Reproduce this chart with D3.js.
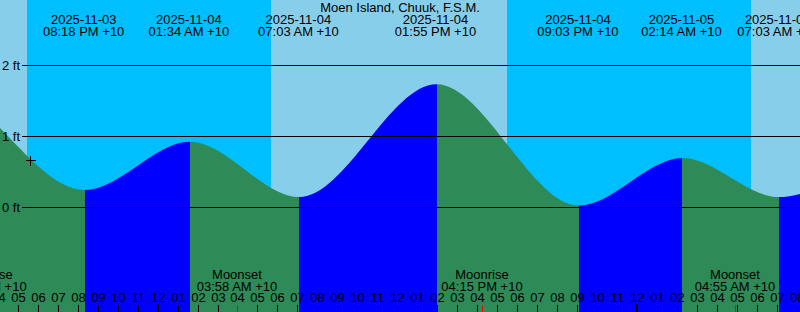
<!DOCTYPE html>
<html>
<head>
<meta charset="utf-8">
<script src="https://cdn.jsdelivr.net/npm/d3@7"></script>
<style>
  html, body { margin: 0; padding: 0; background: #fff; }
  svg { display: block; }
  text { font-family: "Liberation Sans", Arial, sans-serif; font-size: 13px; fill: #000; }
</style>
</head>
<body>
<svg id="chart" width="800" height="312"></svg>
<script>
// ---------- data (local time, +10) ----------
const title = "Moen Island, Chuuk, F.S.M.";
const viewWindow = ["2025-11-03 16:06:30", "2025-11-05 08:10:06"];

const tideTimes = ["2025-11-03 07:05", "2025-11-03 12:48", "2025-11-03 20:18", "2025-11-04 01:34",
                   "2025-11-04 07:03", "2025-11-04 13:55", "2025-11-04 21:03", "2025-11-05 02:14",
                   "2025-11-05 07:03", "2025-11-05 14:20"];
const tideHeights = [0.20, 1.70, 0.24, 0.92, 0.14, 1.73, 0.02, 0.69, 0.14, 1.60];

const sunTimes = ["2025-11-03 05:40", "2025-11-03 17:28", "2025-11-04 05:41", "2025-11-04 17:30", "2025-11-05 05:43", "2025-11-05 17:31"];
const sunEvents = ["rise", "set", "rise", "set", "rise", "set"];

const moonTimes = ["2025-11-03 15:24", "2025-11-04 03:58", "2025-11-04 16:15", "2025-11-05 04:55"];
const moonEvents = ["Moonrise", "Moonset", "Moonrise", "Moonset"];

const yTicks = [0, 1, 2];
const yTickLabels = ["0 ft", "1 ft", "2 ft"];

const markTime = "2025-11-03 17:38";
const markHeight = 0.66;

const tzLabel = "+10";

// ---------- helpers ----------
function parse(s) {
  const [d, t] = s.split(" ");
  const [Y, M, D] = d.split("-").map(Number);
  const [h, m, sec] = t.split(":").map(Number);
  return new Date(Date.UTC(Y, M - 1, D, h, m, sec || 0));
}
const fmtDate = d3.utcFormat("%Y-%m-%d");
const fmtTime = d3.utcFormat("%I:%M %p");
const fmtHour = d3.utcFormat("%I");

const W = 800, H = 312;
const svg = d3.select("#chart");

const t0 = parse(viewWindow[0]), t1 = parse(viewWindow[1]);
const x = d3.scaleUtc().domain([t0, t1]).range([0, W]);
// the water layer is drawn one pixel to the right, as in the original plot
const xw = x.copy().range([1, W + 1]);
const y = d3.scaleLinear().domain([0, 2]).range([207, 65]);

const tide = tideTimes.map((s, i) => ({ t: parse(s), h: tideHeights[i] }));

// ---------- sky: day / night ----------
svg.append("rect").attr("x", 0).attr("y", 0).attr("width", W).attr("height", H)
  .attr("fill", "#87ceeb");
const sun = sunTimes.map((s, i) => ({ t: parse(s), e: sunEvents[i] }));
for (let i = 0; i < sun.length - 1; i++) {
  if (sun[i].e === "set") {
    svg.append("rect")
      .attr("x", Math.round(x(sun[i].t))).attr("y", 0)
      .attr("width", Math.round(x(sun[i + 1].t)) - Math.round(x(sun[i].t)))
      .attr("height", H).attr("fill", "#00bfff").attr("shape-rendering", "crispEdges");
  }
}

// ---------- water: rising / falling ----------
const area = d3.area().x(d => xw(d.t)).y0(H).y1(d => y(d.h)).curve(d3.curveMonotoneX);
svg.append("clipPath").attr("id", "water").append("path").attr("d", area(tide));
const water = svg.append("g").attr("clip-path", "url(#water)");
for (let i = 0; i < tide.length - 1; i++) {
  const xa = Math.round(xw(tide[i].t)), xb = Math.round(xw(tide[i + 1].t));
  water.append("rect").attr("x", xa).attr("y", 0).attr("width", xb - xa).attr("height", H)
    .attr("fill", tide[i + 1].h > tide[i].h ? "#0000ff" : "#2e8b57")
    .attr("shape-rendering", "crispEdges");
}

// ---------- height grid ----------
yTicks.forEach((v, i) => {
  const yy = Math.round(y(v)) + 0.5;
  svg.append("line").attr("x1", 22).attr("x2", W).attr("y1", yy).attr("y2", yy)
    .attr("stroke", "#000").attr("stroke-width", 1);
  svg.append("text").attr("x", 20).attr("y", yy + 4.5).attr("text-anchor", "end").text(yTickLabels[i]);
});

// ---------- mark ----------
const mx = Math.round(x(parse(markTime))) + 0.5, my = Math.round(y(markHeight)) + 0.5;
svg.append("path").attr("d", `M${mx - 5},${my}H${mx + 5}M${mx},${my - 5}V${my + 5}`)
  .attr("stroke", "#000").attr("stroke-width", 1).attr("shape-rendering", "crispEdges");

// ---------- hour ticks ----------
const hours = d3.utcHour.range(d3.utcHour.offset(t0, -1), d3.utcHour.offset(t1, 1));
hours.forEach(h => {
  const midnight = h.getUTCHours() === 0;
  const xx = Math.round(x(h));
  svg.append("rect").attr("x", midnight ? xx - 1 : xx).attr("y", midnight ? 304 : 305)
    .attr("width", midnight ? 2 : 1).attr("height", midnight ? 8 : 7)
    .attr("fill", "#000").attr("shape-rendering", "crispEdges");
  svg.append("text").attr("x", xx + 0.5).attr("y", 302).attr("text-anchor", "middle").text(fmtHour(h));
});

// ---------- moon events ----------
moonTimes.forEach((s, i) => {
  const t = parse(s), xx = Math.round(x(t));
  svg.append("rect").attr("x", xx).attr("y", 305).attr("width", 1).attr("height", 7)
    .attr("fill", "#ff0000").attr("shape-rendering", "crispEdges");
  svg.append("text").attr("x", xx).attr("y", 279).attr("text-anchor", "middle").text(moonEvents[i]);
  svg.append("text").attr("x", xx).attr("y", 291).attr("text-anchor", "middle")
    .text(fmtTime(t) + " " + tzLabel);
});

// ---------- tide event labels ----------
tide.filter(d => d.t >= t0 && d.t <= t1).forEach(d => {
  const xx = x(d.t);
  svg.append("text").attr("x", xx).attr("y", 24).attr("text-anchor", "middle").text(fmtDate(d.t));
  svg.append("text").attr("x", xx).attr("y", 36).attr("text-anchor", "middle")
    .text(fmtTime(d.t) + " " + tzLabel);
});

// ---------- title ----------
svg.append("text").attr("x", W / 2).attr("y", 12).attr("text-anchor", "middle").text(title);
</script>
</body>
</html>
